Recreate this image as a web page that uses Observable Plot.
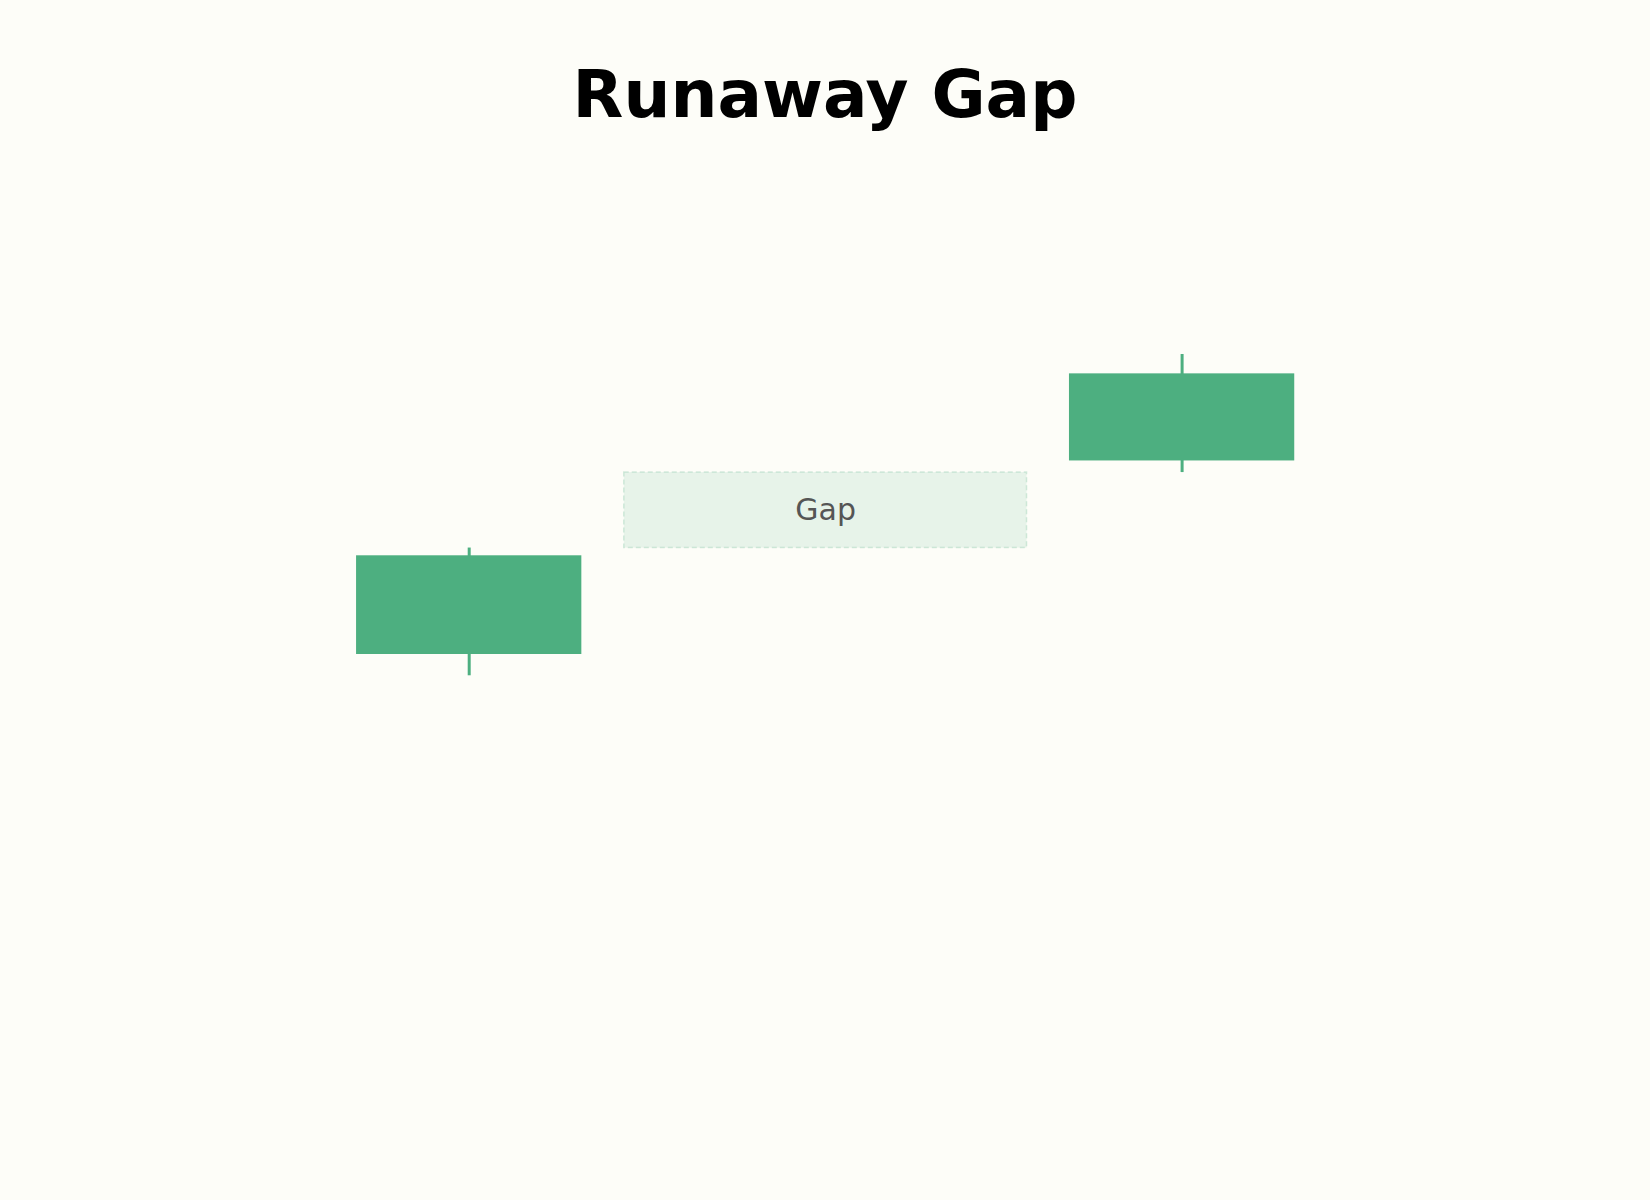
<!DOCTYPE html>
<html>
<head>
<meta charset="utf-8">
<script src="https://cdn.jsdelivr.net/npm/d3@7"></script>
<script src="https://cdn.jsdelivr.net/npm/@observablehq/plot@0.6"></script>
<style>
  html, body { margin: 0; padding: 0; background: #fdfdf8; }
  body { width: 1650px; height: 1200px; overflow: hidden; font-family: "DejaVu Sans", sans-serif; }
  #title {
    height: 160px; box-sizing: border-box; padding-top: 62px;
    text-align: center; font-weight: bold; font-size: 66px; line-height: 66px; color: #000;
  }
</style>
</head>
<body>
<div id="title">Runaway Gap</div>
<div id="chart"></div>
<script>
// Candles (day index, OHLC)
const days  = [0, 2];
const open  = [100, 120];
const high  = [111, 131];
const low   = [97.8, 118.8];
const close = [110.2, 129];
const gapLabel = "Gap";

const candles = days.map((d, i) => ({day: d, open: open[i], high: high[i], low: low[i], close: close[i]}));
const bodyHalf = 0.316;
const green = "#4daf80";

const gap = [{x1: 0.435, x2: 1.565, y1: high[0], y2: low[1], label: gapLabel, xc: 1, yc: (high[0] + low[1]) / 2}];

const chart = Plot.plot({
  width: 1650,
  height: 1040,
  margin: 0,
  style: {background: "#fdfdf8", fontFamily: "DejaVu Sans, sans-serif"},
  x: {domain: [0, 2], range: [468.7, 1181.6], axis: null},
  y: {domain: [100, 131], range: [494, 194], axis: null},
  marks: [
    Plot.rect(gap, {x1: "x1", x2: "x2", y1: "y1", y2: "y2", fill: green, fillOpacity: 0.12,
      stroke: green, strokeOpacity: 0.22, strokeWidth: 1.5, strokeDasharray: "5,3"}),
    Plot.text(gap, {x: "xc", y: "yc", text: "label", fontSize: 30, fill: "#555", textAnchor: "middle"}),
    Plot.ruleX(candles, {x: "day", y1: "low", y2: "high", stroke: green, strokeWidth: 3}),
    Plot.rect(candles, {x1: d => d.day - bodyHalf, x2: d => d.day + bodyHalf, y1: "open", y2: "close", fill: green})
  ]
});
document.getElementById("chart").appendChild(chart);
</script>
</body>
</html>
